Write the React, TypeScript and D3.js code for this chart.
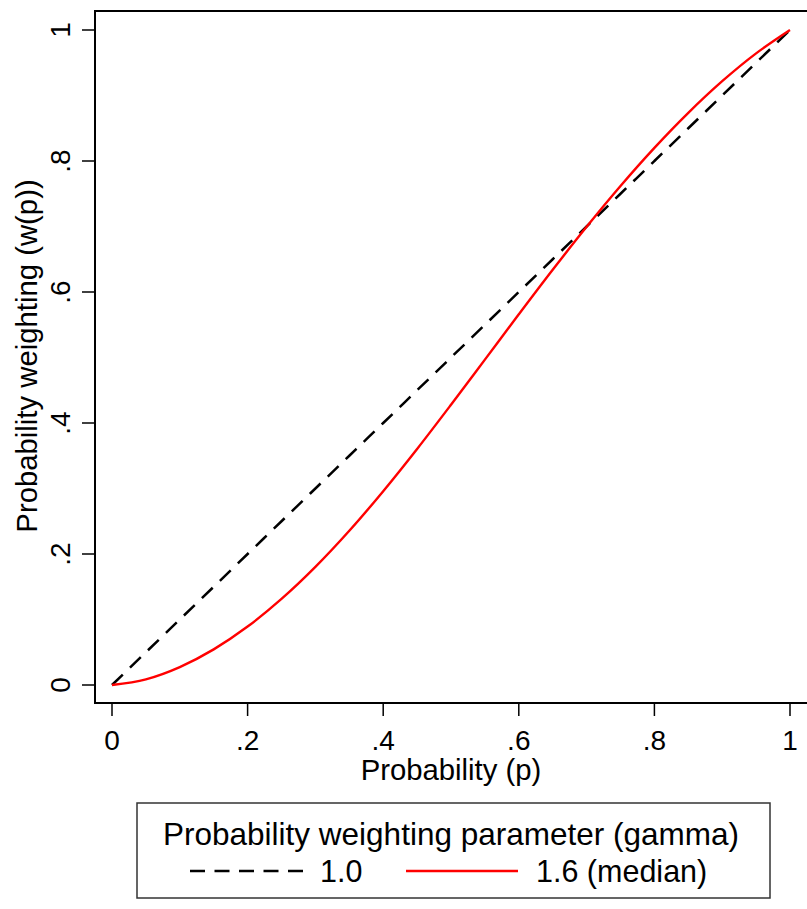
import React from "react";
import * as d3 from "d3";

// Probability grid and the weighting curves w(p) for two gamma values
const probabilities = [0, 0.05, 0.1, 0.15, 0.2, 0.25, 0.3, 0.35, 0.4, 0.45, 0.5, 0.55, 0.6, 0.65, 0.7, 0.75, 0.8, 0.85, 0.9, 0.95, 1];
const weightGamma10 = [0, 0.05, 0.1, 0.15, 0.2, 0.25, 0.3, 0.35, 0.4, 0.45, 0.5, 0.55, 0.6, 0.65, 0.7, 0.75, 0.8, 0.85, 0.9, 0.95, 1];
const weightGamma16 = [0, 0.0087, 0.0274, 0.0544, 0.0892, 0.1314, 0.1803, 0.2354, 0.2959, 0.3604, 0.4279, 0.4968, 0.5659, 0.6339, 0.6995, 0.7618, 0.82, 0.8735, 0.9218, 0.9643, 1];

const xTicks = [0, 0.2, 0.4, 0.6, 0.8, 1];
const xTickLabels = ["0", ".2", ".4", ".6", ".8", "1"];
const yTicks = [0, 0.2, 0.4, 0.6, 0.8, 1];
const yTickLabels = ["0", ".2", ".4", ".6", ".8", "1"];

const legendTitle = "Probability weighting parameter (gamma)";
const seriesLabels = ["1.0", "1.6 (median)"];

const W = 807;
const H = 909;
const FONT = "'Liberation Sans', Arial, sans-serif";

export default function App() {
  const frame = { left: 95, top: 11, right: 815, bottom: 703 };
  const x = d3.scaleLinear().domain([0, 1]).range([112, 790]);
  const y = d3.scaleLinear().domain([0, 1]).range([685, 30]);

  const line = d3
    .line<number>()
    .x((_, i) => x(probabilities[i]))
    .y((d) => y(d))
    .curve(d3.curveMonotoneX);

  const legend = { x: 137, y: 803, w: 633, h: 95 };

  return (
    <svg
      width={W}
      height={H}
      style={{ position: "absolute", left: 0, top: 0, background: "#fff" }}
      fontFamily={FONT}
    >
      <rect x={0} y={0} width={W} height={H} fill="#fff" />

      {/* plot region frame */}
      <rect
        x={frame.left}
        y={frame.top}
        width={frame.right - frame.left}
        height={frame.bottom - frame.top}
        fill="none"
        stroke="#000"
        strokeWidth={2}
      />

      {/* curves */}
      <path d={line(weightGamma10) ?? ""} fill="none" stroke="#000" strokeWidth={2.5} strokeDasharray="15 10" />
      <path d={line(weightGamma16) ?? ""} fill="none" stroke="#ff0000" strokeWidth={2.4} />

      {/* x axis */}
      {xTicks.map((t, i) => (
        <g key={`xt${i}`}>
          <line x1={x(t)} x2={x(t)} y1={frame.bottom} y2={frame.bottom + 13} stroke="#000" strokeWidth={1.5} />
          <text x={x(t)} y={750} textAnchor="middle" fontSize={28} fill="#000">
            {xTickLabels[i]}
          </text>
        </g>
      ))}
      <text x={451} y={780} textAnchor="middle" fontSize={29.3} fill="#000">
        Probability (p)
      </text>

      {/* y axis */}
      {yTicks.map((t, i) => (
        <g key={`yt${i}`}>
          <line x1={frame.left - 13} x2={frame.left} y1={y(t)} y2={y(t)} stroke="#000" strokeWidth={1.5} />
          <text
            transform={`translate(70, ${y(t)}) rotate(-90)`}
            textAnchor="middle"
            fontSize={28}
            fill="#000"
          >
            {yTickLabels[i]}
          </text>
        </g>
      ))}
      <text transform={`translate(37, 356) rotate(-90)`} textAnchor="middle" fontSize={29.3} fill="#000">
        Probability weighting (w(p))
      </text>

      {/* legend */}
      <rect x={legend.x} y={legend.y} width={legend.w} height={legend.h} fill="#fff" stroke="#333" strokeWidth={1.5} />
      <text x={451} y={845} textAnchor="middle" fontSize={31.5} fill="#000">
        {legendTitle}
      </text>
      <line x1={190} x2={303} y1={871} y2={871} stroke="#000" strokeWidth={2.5} strokeDasharray="15 9.5" />
      <text x={320} y={882} fontSize={30.5} fill="#000">
        {seriesLabels[0]}
      </text>
      <line x1={406} x2={518} y1={871} y2={871} stroke="#ff0000" strokeWidth={2.4} />
      <text x={536} y={882} fontSize={30.5} fill="#000">
        {seriesLabels[1]}
      </text>
    </svg>
  );
}
